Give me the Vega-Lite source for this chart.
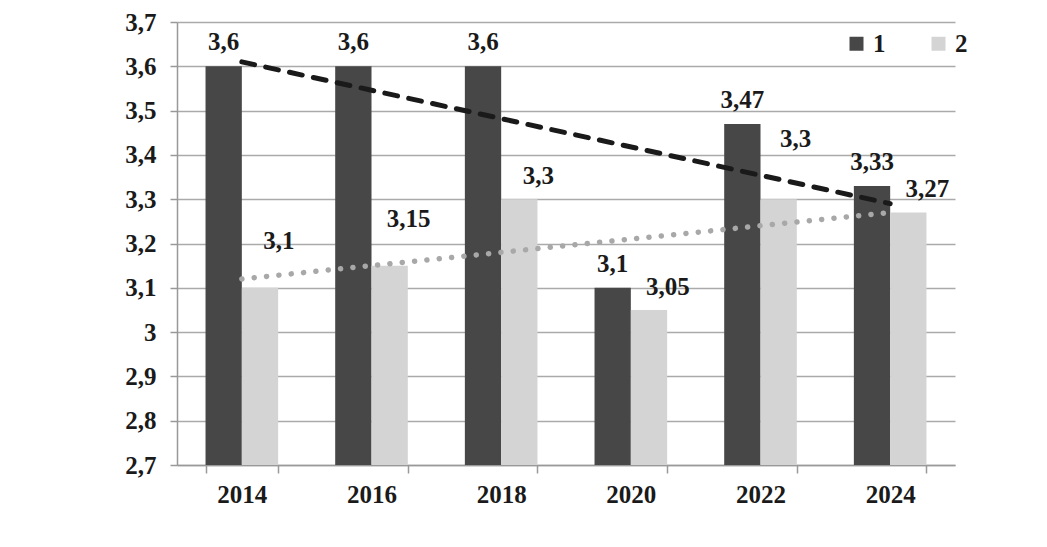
{
  "$schema": "https://vega.github.io/schema/vega-lite/v6.json",
  "autosize": "none",
  "width": 778,
  "height": 443,
  "padding": {"left": 177, "top": 22, "right": 92, "bottom": 82},
  "background": "white",
  "config": {
    "locale": {"number": {"decimal": ",", "thousands": " ", "grouping": [3], "currency": ["", ""]}},
    "view": {"stroke": null},
    "font": "Liberation Serif",
    "text": {"font": "Liberation Serif", "fontWeight": "bold", "fontSize": 25, "fill": "#1a1a1a"}
  },
  "datasets": {
    "bars": [
      {"year": "2014", "series": "1", "value": 3.6},
      {"year": "2014", "series": "2", "value": 3.1},
      {"year": "2016", "series": "1", "value": 3.6},
      {"year": "2016", "series": "2", "value": 3.15},
      {"year": "2018", "series": "1", "value": 3.6},
      {"year": "2018", "series": "2", "value": 3.3},
      {"year": "2020", "series": "1", "value": 3.1},
      {"year": "2020", "series": "2", "value": 3.05},
      {"year": "2022", "series": "1", "value": 3.47},
      {"year": "2022", "series": "2", "value": 3.3},
      {"year": "2024", "series": "1", "value": 3.33},
      {"year": "2024", "series": "2", "value": 3.27}
    ],
    "trend": [
      {"year": "2014", "series": "1", "value": 3.61},
      {"year": "2024", "series": "1", "value": 3.29},
      {"year": "2014", "series": "2", "value": 3.12},
      {"year": "2024", "series": "2", "value": 3.27}
    ]
  },
  "encoding": {
    "x": {
      "field": "year", "type": "nominal",
      "scale": {"domain": ["2014", "2016", "2018", "2020", "2022", "2024"], "paddingInner": 0.44, "paddingOuter": 0.22},
      "axis": {
        "title": null, "labelAngle": 0, "labelFont": "Liberation Serif", "labelFontWeight": "bold",
        "labelFontSize": 25, "labelColor": "#1a1a1a", "labelPadding": 9,
        "tickBand": "extent", "tickSize": 8, "tickColor": "#999999", "tickWidth": 1.5,
        "domainColor": "#999999", "domainWidth": 1.5, "grid": false
      }
    },
    "y": {
      "field": "value", "type": "quantitative",
      "scale": {"domain": [2.7, 3.7], "zero": false, "nice": false},
      "axis": {
        "title": null, "values": [2.7, 2.8, 2.9, 3, 3.1, 3.2, 3.3, 3.4, 3.5, 3.6, 3.7], "format": "~g",
        "labelFont": "Liberation Serif", "labelFontWeight": "bold", "labelFontSize": 25, "labelColor": "#1a1a1a",
        "labelPadding": 14, "tickSize": 7, "tickColor": "#999999", "tickWidth": 1.5,
        "domainColor": "#999999", "domainWidth": 1.5,
        "grid": true, "gridColor": "#aaaaaa", "gridWidth": 1.5
      }
    }
  },
  "layer": [
    {
      "data": {"name": "bars"},
      "mark": {"type": "bar"},
      "encoding": {
        "xOffset": {"field": "series", "type": "nominal", "scale": {"paddingInner": 0, "paddingOuter": 0}},
        "y2": {"datum": 2.7},
        "color": {
          "field": "series", "type": "nominal",
          "scale": {"domain": ["1", "2"], "range": ["#474747", "#d4d4d4"]},
          "legend": {
            "title": null, "orient": "none", "legendX": 667, "legendY": 9, "direction": "horizontal",
            "symbolType": "square", "symbolSize": 196, "symbolStrokeWidth": 0,
            "labelFont": "Liberation Serif", "labelFontWeight": "bold", "labelFontSize": 25, "labelColor": "#1a1a1a",
            "labelOffset": 4, "columnPadding": 40, "padding": 0
          }
        }
      }
    },
    {
      "data": {"name": "bars"},
      "transform": [{"filter": "datum.series === '1'"}],
      "mark": {"type": "text", "dy": -24, "baseline": "middle", "align": "center"},
      "encoding": {
        "xOffset": {"field": "series", "type": "nominal", "scale": {"domain": ["1", "2"]}},
        "text": {"field": "value", "type": "quantitative", "format": "~g"}
      }
    },
    {
      "data": {"name": "bars"},
      "transform": [{"filter": "datum.series === '2' && (datum.year === '2018' || datum.year === '2020' || datum.year === '2024')"}],
      "mark": {"type": "text", "dy": -23, "dx": 19, "baseline": "middle", "align": "center"},
      "encoding": {
        "xOffset": {"field": "series", "type": "nominal", "scale": {"domain": ["1", "2"]}},
        "text": {"field": "value", "type": "quantitative", "format": "~g"}
      }
    },
    {
      "data": {"name": "bars"},
      "transform": [{"filter": "datum.series === '2' && (datum.year === '2014' || datum.year === '2016')"}],
      "mark": {"type": "text", "dy": -47, "dx": 19, "baseline": "middle", "align": "center"},
      "encoding": {
        "xOffset": {"field": "series", "type": "nominal", "scale": {"domain": ["1", "2"]}},
        "text": {"field": "value", "type": "quantitative", "format": "~g"}
      }
    },
    {
      "data": {"name": "bars"},
      "transform": [{"filter": "datum.series === '2' && datum.year === '2022'"}],
      "mark": {"type": "text", "dy": -60, "dx": 17, "baseline": "middle", "align": "center"},
      "encoding": {
        "xOffset": {"field": "series", "type": "nominal", "scale": {"domain": ["1", "2"]}},
        "text": {"field": "value", "type": "quantitative", "format": "~g"}
      }
    },
    {
      "data": {"name": "trend"},
      "transform": [{"filter": "datum.series === '1'"}],
      "mark": {"type": "line", "color": "#1a1a1a", "strokeWidth": 5, "strokeCap": "round", "strokeDash": [13, 11.4]},
      "encoding": {}
    },
    {
      "data": {"name": "trend"},
      "transform": [{"filter": "datum.series === '2'"}],
      "mark": {"type": "line", "color": "#a8a8a8", "strokeWidth": 5.5, "strokeCap": "round", "strokeDash": [0.1, 12.3]},
      "encoding": {}
    }
  ]
}
